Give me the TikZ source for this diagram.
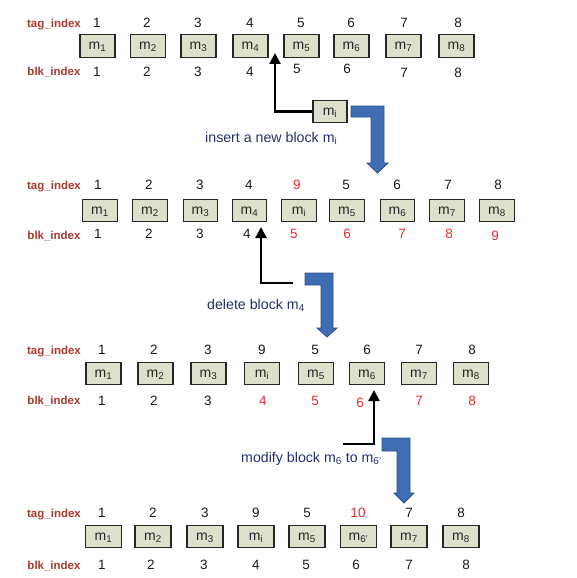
\documentclass[tikz,border=0pt]{standalone}
\usepackage{fontspec}
\setmainfont{Liberation Sans}
\usetikzlibrary{arrows.meta}
\definecolor{boxfill}{HTML}{DDE0CB}
\definecolor{lblred}{HTML}{A83A32}
\definecolor{numred}{HTML}{F0282D}
\definecolor{navy}{HTML}{26306A}
\definecolor{arrblue}{HTML}{3E6DB5}
\definecolor{arrborder}{HTML}{2C4F88}
\tikzset{
  blk/.style={draw=black!85, line width=1.1pt, fill=boxfill, minimum width=35pt,
    minimum height=22.5pt, inner sep=0pt, font=\fontsize{14}{16}\selectfont, text=black!85,
    text height=7.5pt, text depth=0pt},
  num/.style={font=\fontsize{13.5}{16}\selectfont, inner sep=0pt, text=black!90,
    text height=9.7pt, text depth=0pt},
  rnum/.style={num, text=numred},
  lbl/.style={font=\bfseries\fontsize{11.5}{14}\selectfont, text=lblred, inner sep=0pt,
    text height=8.3pt, text depth=0pt},
  caption/.style={font=\fontsize{14.2}{16}\selectfont, text=navy, inner sep=0pt, anchor=west,
    text height=10pt, text depth=0pt},
  ptr/.style={line width=2.2pt, -{Triangle[length=11pt,width=11pt]}},
  bluearr/.style={fill=arrblue, draw=arrborder, line width=0.8pt, line join=miter},
}
\begin{document}
\begin{tikzpicture}[x=1pt,y=-1pt]
\useasboundingbox (0,0) rectangle (576,578);
% ---------- row 1 ----------
\node[lbl] (r1tl) at (54,23) {tag\_index};
\node[lbl] (r1bl) at (54,71) {blk\_index};
\foreach \px/\s [count=\k] in {97.5/1,148/2,198.5/3,250.5/4,301.5/5,351.5/6,403.5/7,456.5/8}
  \node[blk] (r1m\k) at (\px,46) {m\textsubscript{\s}};
\foreach \px/\t [count=\k] in {97/1,147/2,198/3,250/4,301/5,351/6,404/7,458/8}
  \node[num] (r1t\k) at (\px,23) {\t};
\foreach \px/\py/\t [count=\k] in {97/72/1,147/72/2,198/72/3,250/72/4,297/69/5,347/69/6,404/73/7,458/73/8}
  \node[num] (r1b\k) at (\px,\py) {\t};
\node[blk, minimum width=34pt] (r1mi) at (330,111.5) {m\textsubscript{i}};
\coordinate (tip1) at (275,53);
\draw[ptr] (r1mi.west) -| (tip1);
\draw[bluearr] (351,106) -- (384,106) -- (384,163) -- (388,163) -- (377.5,173) -- (367,163)
  -- (371,163) -- (371,117) -- (351,117) -- cycle;
\node[caption] (cap1) at (205,137) {insert a new block m\textsubscript{i}};
% ---------- row 2 ----------
\node[lbl] (r2tl) at (54,185) {tag\_index};
\node[lbl] (r2bl) at (54,235) {blk\_index};
\foreach \px/\s [count=\k] in {100/1,150/2,200.5/3,249.5/4,299/i,347/5,397.5/6,447/7,497/8}
  \node[blk, minimum width=34.5pt] (r2m\k) at (\px,210.5) {m\textsubscript{\s}};
\foreach \px/\t/\st [count=\k] in {98/1/num,149/2/num,200/3/num,249/4/num,297/9/rnum,346/5/num,397/6/num,448/7/num,498/8/num}
  \node[\st] (r2t\k) at (\px,185) {\t};
\foreach \px/\py/\t/\st [count=\k] in {98/234/1/num,149/234/2/num,200/234/3/num,247/234/4/num,294/234/5/rnum,347/234/6/rnum,402/234/7/rnum,449/234/8/rnum,495/236/9/rnum}
  \node[\st] (r2b\k) at (\px,\py) {\t};
\coordinate (src2) at (293,283);
\coordinate (tip2) at (261,227);
\draw[ptr] (src2) -| (tip2);
\draw[bluearr] (305,273) -- (333,273) -- (333,328) -- (337,328) -- (327,337) -- (317,328)
  -- (321,328) -- (321,285) -- (305,285) -- cycle;
\node[caption] (cap2) at (207,304) {delete block m\textsubscript{4}};
% ---------- row 3 ----------
\node[lbl] (r3tl) at (54,350) {tag\_index};
\node[lbl] (r3bl) at (54,400) {blk\_index};
\foreach \px/\s [count=\k] in {103.5/1,155.5/2,208.5/3,262/i,316/5,367/6,419/7,471/8}
  \node[blk] (r3m\k) at (\px,373.5) {m\textsubscript{\s}};
\foreach \px/\t [count=\k] in {102/1,154/2,208/3,262/9,315/5,367/6,419/7,472/8}
  \node[num] (r3t\k) at (\px,350) {\t};
\foreach \px/\py/\t/\st [count=\k] in {102/401/1/num,154/401/2/num,208/401/3/num,263/401/4/rnum,315/401/5/rnum,360/403/6/rnum,419/401/7/rnum,472/401/8/rnum}
  \node[\st] (r3b\k) at (\px,\py) {\t};
\coordinate (src3) at (343,444);
\coordinate (tip3) at (374,390);
\draw[ptr] (src3) -| (tip3);
\draw[bluearr] (382,438) -- (410,438) -- (410,493) -- (414,493) -- (404,503) -- (394,493)
  -- (397,493) -- (397,451) -- (382,451) -- cycle;
\node[caption] (cap3) at (241,457) {modify block m\textsubscript{6} to m\textsubscript{6'}};
% ---------- row 4 ----------
\node[lbl] (r4tl) at (54,513) {tag\_index};
\node[lbl] (r4bl) at (54,565) {blk\_index};
\foreach \px/\s [count=\k] in {103.5/1,153/2,205/3,256/i,307/5,358.5/6',409/7,461/8}
  \node[blk, minimum width=36pt] (r4m\k) at (\px,536.5) {m\textsubscript{\s}};
\foreach \px/\t/\st [count=\k] in {102/1/num,153/2/num,205/3/num,256/9/num,307/5/num,358/10/rnum,409/7/num,461/8/num}
  \node[\st] (r4t\k) at (\px,513) {\t};
\foreach \px/\t [count=\k] in {102/1,151/2,204/3,256/4,306/5,356/6,409/7,466/8}
  \node[num] (r4b\k) at (\px,565) {\t};
\end{tikzpicture}
\end{document}
